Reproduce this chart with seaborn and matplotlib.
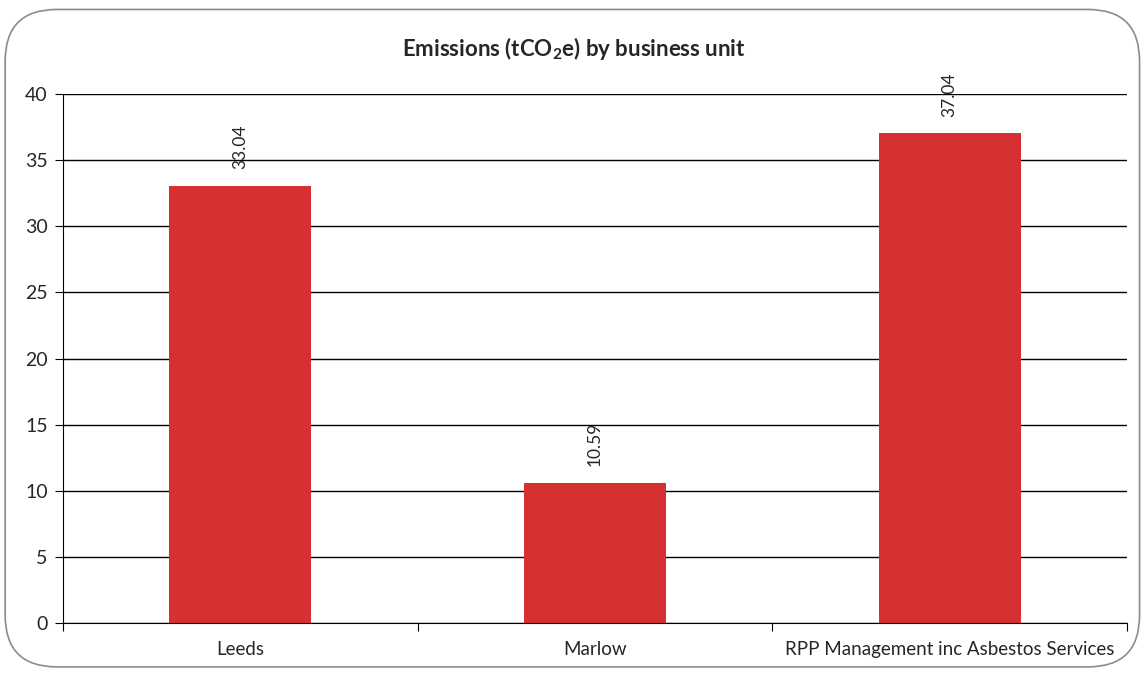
import pandas as pd
import seaborn as sns
import matplotlib.pyplot as plt
from matplotlib.patches import FancyBboxPatch

# values
units = ['Leeds', 'Marlow', 'RPP Management inc Asbestos Services']
emissions = [33.04, 10.59, 37.04]
y_ticks = [0, 5, 10, 15, 20, 25, 30, 35, 40]


def main():
    df = pd.DataFrame({'unit': units, 'emissions': emissions})

    sns.set_style('white')
    plt.rcParams['font.family'] = ['Lato', 'DejaVu Sans']
    plt.rcParams['mathtext.fontset'] = 'custom'
    plt.rcParams['mathtext.rm'] = 'Lato'
    plt.rcParams['mathtext.bf'] = 'Lato:bold'

    fig = plt.figure(figsize=(11.47, 6.75), dpi=100)
    ax = fig.add_axes([0.0549, 0.077, 0.9277, 0.7837])

    sns.barplot(data=df, x='unit', y='emissions', color='#D63033',
                saturation=1, width=0.4, linewidth=0, ax=ax)

    ax.set_ylim(0, 40)
    ax.set_xlim(-0.5, 2.5)
    ax.set_yticks(y_ticks)
    ax.yaxis.grid(True, color='black', linewidth=1)
    ax.set_axisbelow(True)
    ax.set_xlabel('')
    ax.set_ylabel('')

    for side in ['top', 'right']:
        ax.spines[side].set_visible(False)
    ax.spines['left'].set_color('black')
    ax.spines['bottom'].set_color('black')

    # category labels centred, tick marks on boundaries (excel style)
    ax.set_xticks([-0.5, 0.5, 1.5, 2.5])
    ax.set_xticklabels([])
    ax.tick_params(axis='x', which='major', direction='out', length=6,
                   color='black', bottom=True)
    ax.set_xticks([0, 1, 2], minor=True)
    ax.set_xticklabels(units, minor=True, fontsize=13.5)
    ax.tick_params(axis='x', which='minor', length=0, pad=13)
    ax.tick_params(axis='y', direction='out', length=6, color='black',
                   left=True, labelsize=14, pad=5)

    for i, v in enumerate(emissions):
        ax.annotate(f'{v:.2f}', (i, v), xytext=(0, 12),
                    textcoords='offset points', rotation=90,
                    ha='center', va='bottom', fontsize=12.5)

    fig.text(0.5, 0.928, r'Emissions (tCO$_\mathbf{2}$e) by business unit',
             ha='center', va='center', fontsize=16, fontweight='bold')

    # rounded chart border
    border = FancyBboxPatch((0.0045, 0.012), 0.989, 0.974,
                            boxstyle='round,pad=0,rounding_size=0.045',
                            transform=fig.transFigure, facecolor='none',
                            edgecolor='#8c8c8c', linewidth=1.2,
                            mutation_aspect=1147 / 675)
    fig.patches.append(border)

    fig.savefig('out.png', dpi=100)


if __name__ == '__main__':
    main()
